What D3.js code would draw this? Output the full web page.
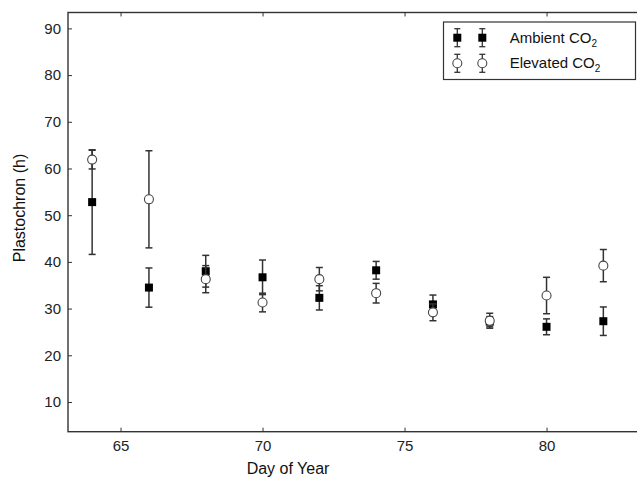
<!DOCTYPE html>
<html>
<head>
<meta charset="utf-8">
<script src="https://cdn.jsdelivr.net/npm/d3@7"></script>
<style>
  body { margin: 0; background: #fff; }
  svg { display: block; font-family: "Liberation Sans", Arial, sans-serif; }
</style>
</head>
<body>
<svg id="chart" width="637" height="479"></svg>
<script>
// values
const days = [64, 66, 68, 70, 72, 74, 76, 78, 80, 82];
const ambient = [52.8, 34.5, 38.0, 36.7, 32.3, 38.2, 30.9, 27.2, 26.1, 27.3];
const ambientErr = [11.2, 4.2, 3.4, 3.7, 2.6, 1.9, 2.0, 1.1, 1.7, 3.05];
const elevated = [61.9, 53.4, 36.3, 31.3, 36.3, 33.3, 29.2, 27.4, 32.8, 39.2];
const elevatedErr = [2.0, 10.4, 2.9, 2.0, 2.5, 2.1, 1.8, 1.6, 3.9, 3.45];
const xTicks = [65, 70, 75, 80];
const yTicks = [10, 20, 30, 40, 50, 60, 70, 80, 90];

const axisColor = '#333';
const svg = d3.select('#chart');

// the right side of the figure is cut off, so the frame runs past the edge
const plotLeft = 68, plotTop = 12.5, plotBottom = 431.7;
const x = d3.scaleLinear().domain([63.15, 84]).range([plotLeft, plotLeft + (84 - 63.15) * 28.4]);
const y = d3.scaleLinear().domain([3.64, 93.4]).range([plotBottom, plotTop]);
const plotRight = x.range()[1];

// frame
svg.append('rect')
  .attr('x', plotLeft).attr('y', plotTop)
  .attr('width', plotRight - plotLeft).attr('height', plotBottom - plotTop)
  .attr('fill', 'none').attr('stroke', axisColor).attr('stroke-width', 1.4);

// axes with inward ticks
const xAxis = svg.append('g')
  .attr('transform', `translate(0,${plotBottom})`)
  .call(d3.axisBottom(x).tickValues(xTicks).tickSizeInner(-4).tickSizeOuter(0).tickPadding(9));
const xTop = svg.append('g')
  .attr('transform', `translate(0,${plotTop})`)
  .call(d3.axisTop(x).tickValues(xTicks).tickSizeInner(-4).tickSizeOuter(0).tickFormat(''));
const yAxis = svg.append('g')
  .attr('transform', `translate(${plotLeft},0)`)
  .call(d3.axisLeft(y).tickValues(yTicks).tickSizeInner(-4).tickSizeOuter(0).tickPadding(7));

[xAxis, xTop, yAxis].forEach(g => {
  g.select('.domain').remove();
  g.selectAll('.tick line').attr('stroke', axisColor).attr('stroke-width', 1);
  g.selectAll('.tick text').attr('fill', '#222').style('font-size', '15px');
});
xAxis.selectAll('.tick text').attr('dy', '0.71em');

// axis titles
svg.append('text')
  .attr('x', 288).attr('y', 474)
  .attr('text-anchor', 'middle')
  .style('font-size', '16px').attr('fill', '#111')
  .text('Day of Year');
svg.append('text')
  .attr('transform', 'translate(25,208) rotate(-90)')
  .attr('text-anchor', 'middle')
  .style('font-size', '16px').attr('fill', '#111')
  .text('Plastochron (h)');

function errorBar(g, cx, y0, y1, cap) {
  g.append('line').attr('x1', cx).attr('x2', cx).attr('y1', y0).attr('y2', y1);
  g.append('line').attr('x1', cx - cap).attr('x2', cx + cap).attr('y1', y0).attr('y2', y0);
  g.append('line').attr('x1', cx - cap).attr('x2', cx + cap).attr('y1', y1).attr('y2', y1);
}

function drawMarker(g, kind, cx, cy) {
  if (kind === 'square') {
    g.append('rect')
      .attr('x', cx - 4).attr('y', cy - 4).attr('width', 8).attr('height', 8)
      .attr('fill', '#000');
  } else {
    g.append('circle')
      .attr('cx', cx).attr('cy', cy).attr('r', 4.5)
      .attr('fill', '#fff').attr('stroke', '#444').attr('stroke-width', 1.1);
  }
}

const series = [
  {name: 'Ambient', values: ambient, err: ambientErr, kind: 'square'},
  {name: 'Elevated', values: elevated, err: elevatedErr, kind: 'circle'}
];

series.forEach(s => {
  const g = svg.append('g').attr('class', 'series');
  const bars = g.append('g').attr('stroke', axisColor).attr('stroke-width', 1.5);
  days.forEach((d, i) => {
    errorBar(bars, x(d), y(s.values[i] + s.err[i]), y(s.values[i] - s.err[i]), 3.5);
  });
  days.forEach((d, i) => drawMarker(g, s.kind, x(d), y(s.values[i])));
});

// legend
const legend = svg.append('g');
legend.append('rect')
  .attr('x', 443.5).attr('y', 22).attr('width', 192).attr('height', 57.5)
  .attr('fill', '#fff').attr('stroke', axisColor).attr('stroke-width', 1.2);

const labels = ['Ambient CO', 'Elevated CO'];
series.forEach((s, i) => {
  const cy = 37.7 + i * 25.6;
  const bars = legend.append('g').attr('stroke', axisColor).attr('stroke-width', 1.3);
  [457.3, 482.3].forEach(cx => {
    errorBar(bars, cx, cy - 9, cy + 9, 3);
    drawMarker(legend, s.kind, cx, cy);
  });
  const t = legend.append('text')
    .attr('x', 509.7).attr('y', cy + 5)
    .style('font-size', '15px').attr('fill', '#111')
    .text(labels[i]);
  t.append('tspan').attr('dy', 4).style('font-size', '10px').text('2');
});
</script>
</body>
</html>
